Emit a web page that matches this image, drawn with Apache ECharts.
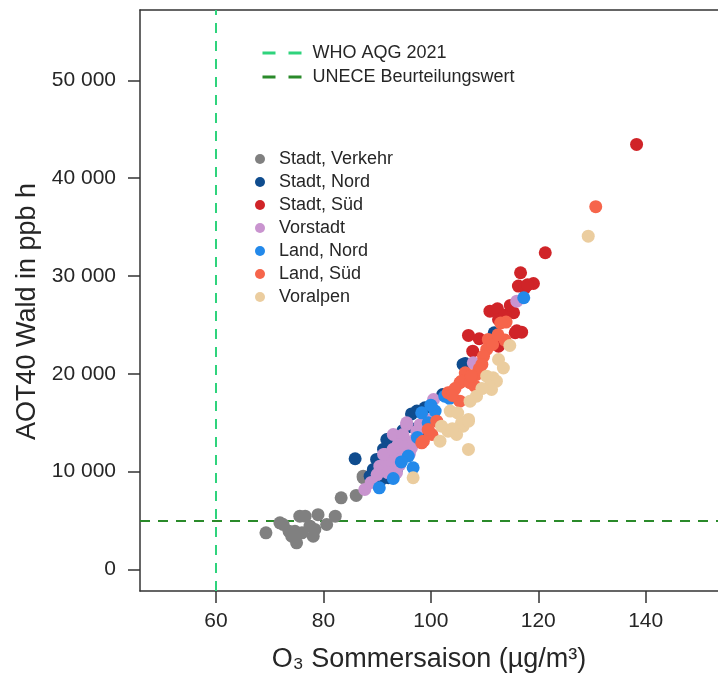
<!DOCTYPE html>
<html>
<head>
<meta charset="utf-8">
<script src="https://cdn.jsdelivr.net/npm/echarts@6/dist/echarts.min.js"></script>
<style>html,body{margin:0;padding:0;background:#fff;}#c{width:718px;height:673px;}</style>
</head>
<body>
<div id="c"></div>
<script>
const xTicks = [60, 80, 100, 120, 140];
const yTicks = [0, 10000, 20000, 30000, 40000, 50000];
const whoValue = 60;
const uneceValue = 5000;

const stadtVerkehr = [[69.3,3750],[71.9,4770],[72.5,4600],[73.6,3900],[74.1,3400],[74.7,3900],[75.0,2730],[75.6,5450],[76.6,5450],[76.0,3750],[77.5,4430],[78.1,3400],[78.4,4100],[79.0,5600],[80.6,4600],[82.2,5450],[83.3,7330],[86.1,7570],[87.4,9380],[88.7,9200],[87.4,9540],[88.4,9200]];
const stadtNord = [[85.9,11320],[89.9,11250],[89.3,10230],[92.1,9380],[92.1,13290],[93.6,13290],[97.4,16190],[98.6,14320],[98.9,16530],[102.2,17890],[106.0,20960],[106.4,21060],[111.8,24200],[93.6,10230],[90.8,10560],[89.3,10050],[91.8,13290],[88.7,9540],[90.6,9100],[91.2,12300],[94.8,14200],[91.0,10800],[92.8,12000],[95.8,14600],[96.4,15900]];
const stadtSued = [[138.3,43460],[121.3,32380],[116.7,30340],[119.1,29240],[116.3,28970],[117.5,28800],[111.0,26410],[112.4,26650],[112.6,25560],[115.4,26250],[115.7,24200],[116.9,24260],[107.0,23930],[109.0,23590],[112.6,22830],[107.8,22320],[113.8,26000],[116.0,24400],[114.8,27000],[118.0,29100]];
const vorstadt = [[87.7,8180],[90.5,10560],[91.5,11760],[93.0,13800],[93.9,11250],[93.6,9890],[94.6,12440],[95.2,12950],[95.5,14830],[96.4,12440],[92.4,11590],[97.4,14140],[99.2,15340],[100.5,17380],[107.9,21130],[116.0,27430],[91.8,10910],[94.8,13800],[93.9,12780],[95.2,12610],[95.5,15000],[91.2,11760],[88.9,8900],[92.8,10300],[96.0,11800],[94.2,10700],[90.0,9700],[93.0,12300],[96.8,13200],[92.0,9900],[98.0,14800]];
const landNord = [[90.4,8350],[96.7,10400],[95.8,11590],[98.3,16020],[100.8,16190],[102.6,17720],[117.3,27780],[93.0,9300],[97.5,13500],[99.5,15000],[94.5,11000],[100.0,16800],[103.5,17500]];
const landSued = [[98.3,12950],[100.2,13800],[101.1,15160],[103.2,18070],[105.4,19090],[106.7,19600],[114.0,25290],[110.7,23520],[113.8,23450],[110.4,22500],[109.8,21810],[109.5,20960],[108.5,19940],[106.4,20110],[105.7,19250],[107.3,19090],[108.2,18740],[103.6,18070],[105.4,17210],[130.7,37090],[98.6,13120],[104.5,18500],[109.0,20500],[111.5,23000],[99.5,14300],[104.0,17800],[107.5,19800],[112.5,24000],[113.0,25200]];
const voralpen = [[96.7,9380],[102.0,14650],[101.7,13120],[103.2,14140],[104.8,13800],[103.6,16190],[106.0,14650],[107.0,15340],[114.7,22900],[112.6,21470],[110.4,19760],[111.6,19600],[112.2,19250],[111.0,18740],[111.3,18400],[108.5,17720],[107.3,17210],[105.7,15000],[107.0,15160],[129.3,34080],[107.0,12270],[104.0,14400],[109.5,18500],[113.5,20600],[105.0,16000]];

const groups = [
  {name: 'Stadt, Verkehr', data: stadtVerkehr, color: '#808080'},
  {name: 'Stadt, Nord', data: stadtNord, color: '#0f4c8e'},
  {name: 'Stadt, Süd', data: stadtSued, color: '#d02428'},
  {name: 'Vorstadt', data: vorstadt, color: '#c994cf'},
  {name: 'Land, Nord', data: landNord, color: '#2389ea'},
  {name: 'Land, Süd', data: landSued, color: '#f6654b'},
  {name: 'Voralpen', data: voralpen, color: '#ebcd9f'}
];

const fmt = v => String(v).replace(/\B(?=(\d{3})+(?!\d))/g, ' ');
const FONT = 'Liberation Sans, Arial, sans-serif';
const TXT = '#262626';
const AX = '#333';
const X_MIN = 45.85, X_MAX = 153.46;

const chart = echarts.init(document.getElementById('c'), null, {renderer: 'canvas'});
const series = [
  {name: 'WHO AQG 2021', type: 'line', data: [], symbol: 'none', z: 1,
   lineStyle: {color: '#2fd37c', type: [10, 8], width: 2},
   itemStyle: {color: '#2fd37c'},
   markLine: {silent: true, symbol: ['none','none'], label: {show: false}, z: 1,
     lineStyle: {color: '#2fd37c', type: [10, 8], width: 2}, data: [{xAxis: whoValue}]}},
  {name: 'UNECE Beurteilungswert', type: 'line', data: [], symbol: 'none', z: 1,
   lineStyle: {color: '#2a8a2a', type: [10, 8], width: 2},
   itemStyle: {color: '#2a8a2a'},
   markLine: {silent: true, symbol: ['none','none'], label: {show: false}, z: 1,
     lineStyle: {color: '#2a8a2a', type: [10, 8], width: 2}, data: [{yAxis: uneceValue}]}}
];
groups.forEach(g => series.push({
  name: g.name, type: 'scatter', data: g.data, symbolSize: 13, z: 5,
  itemStyle: {color: g.color, opacity: 1}
}));

chart.setOption({
  animation: false,
  backgroundColor: '#fff',
  grid: {left: 140, top: 10, right: 0, bottom: 82, show: false, containLabel: false, outerBoundsMode: 'none'},
  legend: [
    {data: ['WHO AQG 2021', 'UNECE Beurteilungswert'], orient: 'vertical', left: 256, top: 39,
     itemWidth: 40, itemHeight: 14, itemGap: 6, selectedMode: false,
     itemStyle: {opacity: 0},
     lineStyle: {type: [13, 13], width: 3},
     textStyle: {fontFamily: FONT, fontSize: 18, color: TXT, padding: [0,0,0,5]}},
    {data: groups.map(g => g.name), orient: 'vertical', left: 250, top: 145, icon: 'circle',
     itemWidth: 10, itemHeight: 10, itemGap: 5, selectedMode: false,
     textStyle: {fontFamily: FONT, fontSize: 18, color: TXT, padding: [0,0,0,9]}}
  ],
  xAxis: [{
    type: 'value', min: X_MIN, max: X_MAX, position: 'bottom',
    name: 'O₃ Sommersaison (µg/m³)', nameLocation: 'middle', nameGap: 55,
    nameTextStyle: {fontFamily: FONT, fontSize: 27, color: TXT},
    splitLine: {show: false},
    axisLine: {show: true, onZero: false, lineStyle: {color: AX, width: 1.5}},
    axisTick: {show: true, length: 12, lineStyle: {color: AX, width: 1.5}, customValues: xTicks},
    axisLabel: {fontFamily: FONT, fontSize: 21, color: TXT, margin: 20, customValues: xTicks}
  }, {
    type: 'value', min: X_MIN, max: X_MAX, position: 'top',
    splitLine: {show: false},
    axisLine: {show: true, onZero: false, lineStyle: {color: AX, width: 1.5}},
    axisTick: {show: false}, axisLabel: {show: false}
  }],
  yAxis: {
    type: 'value', min: -2200, max: 57200,
    name: 'AOT40 Wald in ppb h', nameLocation: 'middle', nameGap: 97, nameRotate: 90,
    nameTextStyle: {fontFamily: FONT, fontSize: 27, color: TXT, padding: [0, 22, 0, 0]},
    splitLine: {show: false},
    axisLine: {show: true, onZero: false, lineStyle: {color: AX, width: 1.5}},
    axisTick: {show: true, length: 12, lineStyle: {color: AX, width: 1.5}, customValues: yTicks},
    axisLabel: {fontFamily: FONT, fontSize: 21, color: TXT, margin: 24, customValues: yTicks, formatter: fmt}
  },
  series: series
});
</script>
</body>
</html>
